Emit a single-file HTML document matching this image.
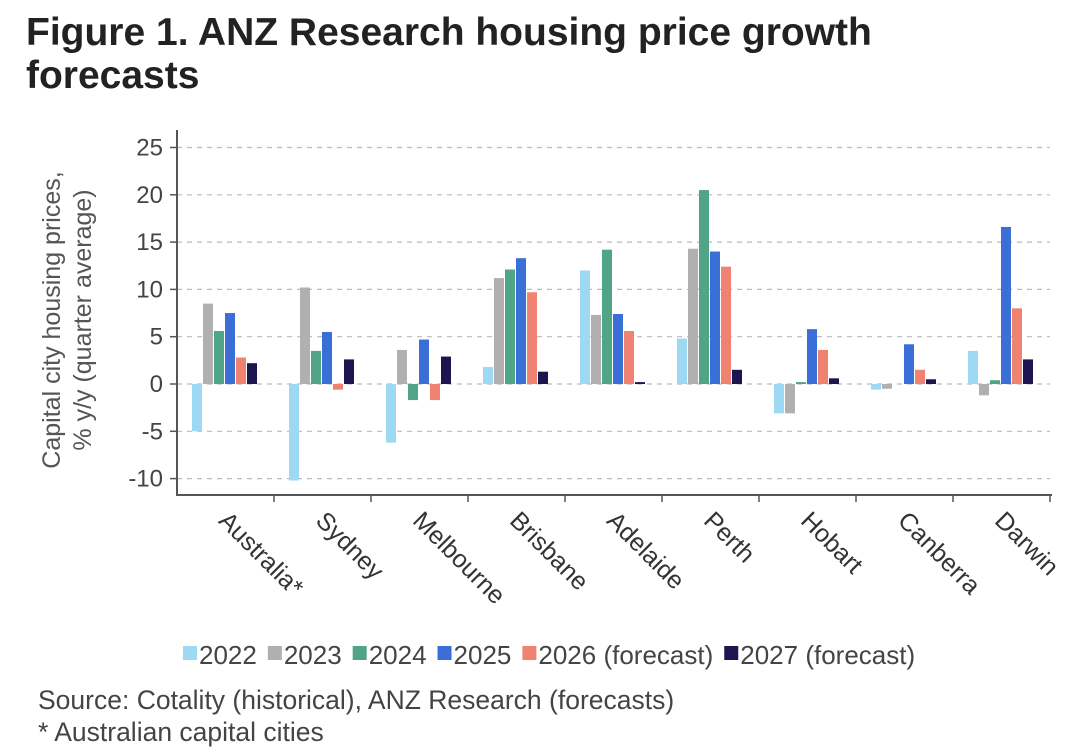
<!DOCTYPE html>
<html><head><meta charset="utf-8"><style>
body{margin:0;background:#fff;width:1080px;height:755px;overflow:hidden;font-family:"Liberation Sans",Arial,sans-serif}
.title{position:absolute;left:26px;top:11px;font-size:39px;font-weight:bold;color:#222;line-height:43px}
.note{position:absolute;left:38px;font-size:26.5px;color:#444}
</style></head><body>
<div class="title">Figure 1. ANZ Research housing price growth<br>forecasts</div>
<svg id="c" width="1080" height="755" style="position:absolute;left:0;top:0"></svg>
<div class="note" style="top:685px">Source: Cotality (historical), ANZ Research (forecasts)</div>
<div class="note" style="top:717px">* Australian capital cities</div>
<script>
const categories=["Australia*","Sydney","Melbourne","Brisbane","Adelaide","Perth","Hobart","Canberra","Darwin"];
const seriesNames=["2022","2023","2024","2025","2026 (forecast)","2027 (forecast)"];
const s2022=[-5,-10.2,-6.2,1.8,12,4.8,-3.1,-0.6,3.5];
const s2023=[8.5,10.2,3.6,11.2,7.3,14.3,-3.1,-0.5,-1.2];
const s2024=[5.6,3.5,-1.7,12.1,14.2,20.5,0.2,0,0.4];
const s2025=[7.5,5.5,4.7,13.3,7.4,14,5.8,4.2,16.6];
const s2026=[2.8,-0.6,-1.7,9.7,5.6,12.4,3.6,1.5,8];
const s2027=[2.2,2.6,2.9,1.3,0.2,1.5,0.6,0.5,2.6];
const yTicks=[25,20,15,10,5,0,-5,-10];
const colors=["#9dd9f3","#b0b0b0","#4fa585","#3a6fd8","#ef8270","#1c1550"];
const series=[s2022,s2023,s2024,s2025,s2026,s2027];
const svg=document.getElementById('c');const NS="http://www.w3.org/2000/svg";
function mk(t,a,p){const e=document.createElementNS(NS,t);for(const k in a)e.setAttribute(k,a[k]);(p||svg).appendChild(e);return e;}
const x0=177,cw=97,yz=384,pu=47.3/5;
const Y=v=>yz-v*pu;
const X=i=>x0+i*cw;
for(const t of yTicks){
 const g=mk('line',{x1:x0,x2:1050,y1:Y(t),y2:Y(t),stroke:'#bbb','stroke-dasharray':'5,5','stroke-width':1.2});
 
 mk('line',{x1:170,x2:x0,y1:Y(t),y2:Y(t),stroke:'#555','stroke-width':1.5});
 const l=mk('text',{x:163,y:Y(t)+8,'text-anchor':'end','font-size':24,fill:'#444'});l.textContent=t;
 
}
series.forEach((s,j)=>s.forEach((v,i)=>{
 const b=mk('rect',{x:X(i)+15+j*11,width:10,y:Math.min(Y(v),Y(0)),height:Math.abs(Y(v)-Y(0)),fill:colors[j]});
 
 
}));
const ax=mk('line',{x1:x0,x2:x0,y1:130,y2:496,stroke:'#555','stroke-width':2});

const xa=mk('line',{x1:x0,x2:1052,y1:495,y2:495,stroke:'#555','stroke-width':2});

categories.forEach((c,i)=>{
 mk('line',{x1:X(i+1),x2:X(i+1),y1:495,y2:502,stroke:'#555','stroke-width':1.5});
 const cx=X(i)+cw/2-8,cy=522;
 const t=mk('text',{x:cx,y:cy,'text-anchor':'start','font-size':25,fill:'#333',transform:`rotate(45 ${cx} ${cy})`});
 t.textContent=c;
 
});
const yt=mk('text',{'font-size':25,fill:'#555','text-anchor':'middle',transform:'translate(60,320) rotate(-90)'});

const t1=mk('tspan',{x:0,y:0},yt);t1.textContent='Capital city housing prices,';
const t2=mk('tspan',{x:0,y:31},yt);t2.textContent='% y/y (quarter average)';
let lx=183;
seriesNames.forEach((n,j)=>{
 const g=mk('g',{});
 mk('rect',{x:lx,y:646,width:14,height:14,fill:colors[j]},g);
 const t=mk('text',{x:lx+16,y:664,'font-size':26,fill:'#444'},g);t.textContent=n;
 lx+=16+t.getComputedTextLength()+11;
});
</script>
</body></html>
